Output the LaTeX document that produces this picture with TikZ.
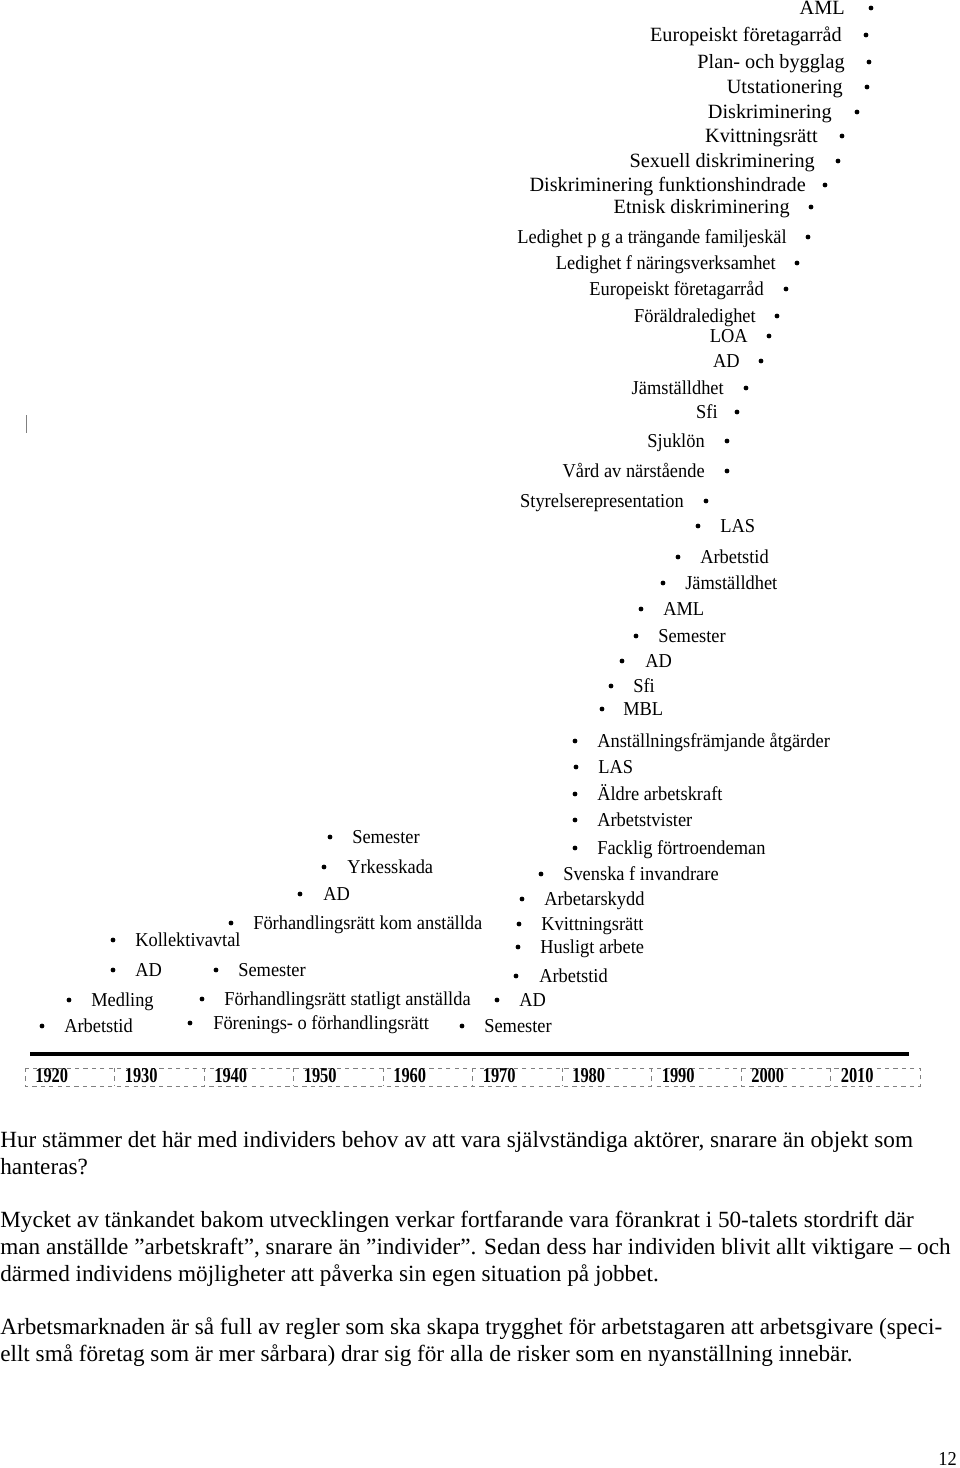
\documentclass[tikz,border=0pt]{standalone}
\usepackage{fontspec}
\setmainfont{Liberation Serif}
\newfontfamily\yearfont[FakeStretch=0.78]{Liberation Serif}
\newfontfamily\itemfont[FakeStretch=0.935]{Liberation Serif}

\begin{document}
\begin{tikzpicture}[
  x=0.025cm, y=-0.025cm,
  lbl/.style={inner sep=0pt, font=\itemfont\fontsize{14}{16}\selectfont},
  lt/.style={lbl, anchor=mid west, yshift=-0.07cm},
  rt/.style={lbl, anchor=mid east, yshift=-0.07cm},
  rtop/.style={rt, font=\fontsize{14.4}{16}\selectfont},
  dot/.style={circle, fill=black, inner sep=0pt, minimum size=1.2mm},
  yr/.style={inner sep=0pt, anchor=mid west, font=\yearfont\bfseries\fontsize{15}{17}\selectfont},
  body/.style={inner sep=0pt, anchor=base west, font=\fontsize{16.5}{19}\selectfont},
]
  \useasboundingbox (0,0) rectangle (960,1468);

  % text then bullet (upper part)
  \node[rtop] (t1) at (845,8) {AML};                                \node[dot] (b1) at (871,8) {};
  \node[rtop] (t2) at (842,35) {Europeiskt företagarråd};           \node[dot] (b2) at (866,35) {};
  \node[rtop] (t3) at (845,62) {Plan- och bygglag};                 \node[dot] (b3) at (869,62) {};
  \node[rtop] (t4) at (843,87) {Utstationering};                    \node[dot] (b4) at (867,87) {};
  \node[rtop] (t5) at (832,112) {Diskriminering};                   \node[dot] (b5) at (857,112) {};
  \node[rtop] (t6) at (818,136) {Kvittningsrätt};                   \node[dot] (b6) at (842,136) {};
  \node[rtop] (t7) at (815,161) {Sexuell diskriminering};           \node[dot] (b7) at (838,161) {};
  \node[rtop] (t8) at (806,185) {Diskriminering funktionshindrade}; \node[dot] (b8) at (825,185) {};
  \node[rtop] (t9) at (790,207) {Etnisk diskriminering};            \node[dot] (b9) at (811,207) {};
  \node[rt] (t10) at (787,237) {Ledighet p g a trängande familjeskäl}; \node[dot] (b10) at (808,237) {};
  \node[rt] (t11) at (776,263) {Ledighet f näringsverksamhet};      \node[dot] (b11) at (797,263) {};
  \node[rt] (t12) at (764,289) {Europeiskt företagarråd};           \node[dot] (b12) at (786,289) {};
  \node[rt] (t13) at (756,316) {Föräldraledighet};                  \node[dot] (b13) at (777,316) {};
  \node[rt] (t14) at (748,336) {LOA};                               \node[dot] (b14) at (769,336) {};
  \node[rt] (t15) at (740,361) {AD};                                \node[dot] (b15) at (761,361) {};
  \node[rt] (t16) at (724,388) {Jämställdhet};                      \node[dot] (b16) at (746,388) {};
  \node[rt] (t17) at (718,412) {Sfi};                               \node[dot] (b17) at (737,412) {};
  \node[rt] (t18) at (705,441) {Sjuklön};                           \node[dot] (b18) at (727,441) {};
  \node[rt] (t19) at (705,471) {Vård av närstående};                \node[dot] (b19) at (727,471) {};
  \node[rt] (t20) at (684,501) {Styrelserepresentation};            \node[dot] (b20) at (706,501) {};

  % bullet then text
  \node[dot] (b21) at (698,526) {};  \node[lt] (t21) at (720,526) {LAS};
  \node[dot] (b22) at (678,557) {};  \node[lt] (t22) at (700,557) {Arbetstid};
  \node[dot] (b23) at (663,583) {};  \node[lt] (t23) at (685,583) {Jämställdhet};
  \node[dot] (b24) at (641,609) {};  \node[lt] (t24) at (663,609) {AML};
  \node[dot] (b25) at (636,636) {};  \node[lt] (t25) at (658,636) {Semester};
  \node[dot] (b26) at (622,661) {};  \node[lt] (t26) at (645,661) {AD};
  \node[dot] (b27) at (611,686) {};  \node[lt] (t27) at (633,686) {Sfi};
  \node[dot] (b28) at (602,709) {};  \node[lt] (t28) at (623,709) {MBL};
  \node[dot] (b29) at (575,741) {};  \node[lt] (t29) at (597,741) {Anställningsfrämjande åtgärder};
  \node[dot] (b30) at (576,767) {};  \node[lt] (t30) at (598,767) {LAS};
  \node[dot] (b31) at (575,794) {};  \node[lt] (t31) at (597,794) {Äldre arbetskraft};
  \node[dot] (b32) at (575,820) {};  \node[lt] (t32) at (597,820) {Arbetstvister};
  \node[dot] (b33) at (575,848) {};  \node[lt] (t33) at (597,848) {Facklig förtroendeman};
  \node[dot] (b34) at (541,874) {};  \node[lt] (t34) at (563,874) {Svenska f invandrare};
  \node[dot] (b35) at (522,899) {};  \node[lt] (t35) at (544,899) {Arbetarskydd};
  \node[dot] (b36) at (519,924) {};  \node[lt] (t36) at (541,924) {Kvittningsrätt};
  \node[dot] (b37) at (518,947) {};  \node[lt] (t37) at (540,947) {Husligt arbete};
  \node[dot] (b38) at (516,976) {};  \node[lt] (t38) at (539,976) {Arbetstid};
  \node[dot] (b39) at (497,1000) {}; \node[lt] (t39) at (519,1000) {AD};
  \node[dot] (b40) at (462,1026) {}; \node[lt] (t40) at (484,1026) {Semester};

  \node[dot] (b41) at (330,837) {};  \node[lt] (t41) at (352,837) {Semester};
  \node[dot] (b42) at (324,867) {};  \node[lt] (t42) at (347,867) {Yrkesskada};
  \node[dot] (b43) at (300,894) {};  \node[lt] (t43) at (323,894) {AD};
  \node[dot] (b44) at (231,923) {};  \node[lt] (t44) at (253,923) {Förhandlingsrätt kom anställda};
  \node[dot] (b45) at (113,940) {};  \node[lt] (t45) at (135,940) {Kollektivavtal};
  \node[dot] (b46) at (113,970) {};  \node[lt] (t46) at (135,970) {AD};
  \node[dot] (b47) at (216,970) {};  \node[lt] (t47) at (238,970) {Semester};
  \node[dot] (b48) at (69,1000) {};  \node[lt] (t48) at (91,1000) {Medling};
  \node[dot] (b49) at (202,999) {};  \node[lt] (t49) at (224,999) {Förhandlingsrätt statligt anställda};
  \node[dot] (b50) at (42,1026) {};  \node[lt] (t50) at (64,1026) {Arbetstid};
  \node[dot] (b51) at (190,1023) {}; \node[lt] (t51) at (213,1023) {Förenings- o förhandlingsrätt};

  % cursor mark
  \draw[gray, line width=0.6pt] (26,415) -- (26,433);

  % time axis
  \coordinate (ax1) at (30,1054);
  \coordinate (ax2) at (909,1054);
  \draw[line width=2.2pt] (ax1) -- (ax2);
  \draw[gray, dashed, line width=0.5pt] (25,1068) rectangle (920,1086);
  \foreach \yr [count=\i from 0] in {1920,1930,1940,1950,1960,1970,1980,1990,2000,2010} {
    \ifnum\i>0 \draw[gray, dashed, line width=0.5pt] (25+89.5*\i,1068) -- (25+89.5*\i,1086); \fi
    \node[yr] (y\yr) at (35+89.5*\i,1079) {\yr};
  }

  % text below
  \node[body] (p1) at (0,1147) {Hur stämmer det här med individers behov av att vara självständiga aktörer, snarare än objekt som};
  \node[body] (p2) at (0,1174) {hanteras?};
  \node[body] (p3) at (0,1227) {Mycket av tänkandet bakom utvecklingen verkar fortfarande vara förankrat i 50-talets stordrift där};
  \node[body] (p4) at (0,1254) {man anställde ”arbetskraft”, snarare än ”individer”. Sedan dess har individen blivit allt viktigare – och};
  \node[body] (p5) at (0,1281) {därmed individens möjligheter att påverka sin egen situation på jobbet.};
  \node[body] (p6) at (0,1334) {Arbetsmarknaden är så full av regler som ska skapa trygghet för arbetstagaren att arbetsgivare (speci-};
  \node[body] (p7) at (0,1361) {ellt små företag som är mer sårbara) drar sig för alla de risker som en nyanställning innebär.};
  \node[lbl, anchor=base east] (pg) at (957,1465) {12};
\end{tikzpicture}
\end{document}
